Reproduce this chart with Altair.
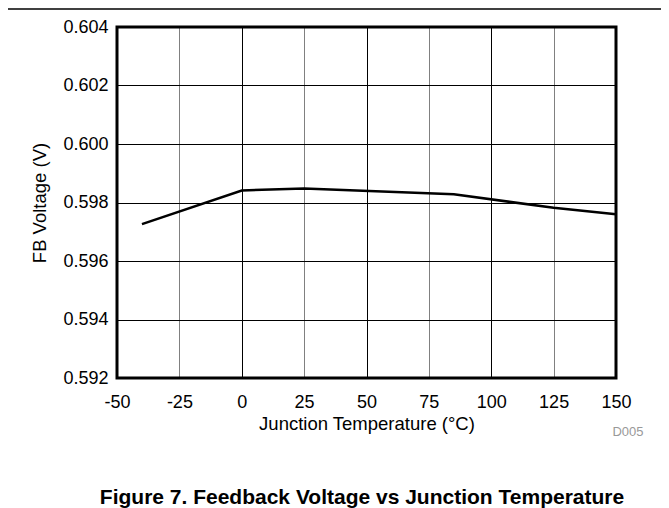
import altair as alt
import pandas as pd

temps = [-40, 0, 25, 85, 125, 150]
volts = [0.59726, 0.59841, 0.59848, 0.59828, 0.59782, 0.5976]

x_ticks = [-50, -25, 0, 25, 50, 75, 100, 125, 150]
y_ticks = [0.592, 0.594, 0.596, 0.598, 0.600, 0.602, 0.604]

df = pd.DataFrame({"temp": temps, "volt": volts})
FONT = "Liberation Sans"

W, H = 499, 351

line = alt.Chart(df).mark_line(color="black", strokeWidth=2.5).encode(
    x=alt.X("temp:Q",
            scale=alt.Scale(domain=[-50, 150], nice=False, zero=False),
            axis=alt.Axis(values=x_ticks, title="Junction Temperature (°C)",
                          labelExpr="'' + datum.value",
                          ticks=False, domain=False, labelPadding=15,
                          titlePadding=3, labelFontSize=18, titleFontSize=18.5,
                          titleFontWeight="normal", labelColor="black",
                          titleColor="black", labelFont=FONT, titleFont=FONT,
                          grid=True,
                          gridColor={"condition": {"test": "datum.value % 50 === 0", "value": "#000000"},
                                     "value": "#808080"},
                          gridWidth=1, gridOpacity=1, labelFlush=False)),
    y=alt.Y("volt:Q",
            scale=alt.Scale(domain=[0.592, 0.604], nice=False, zero=False),
            axis=alt.Axis(values=y_ticks, format=".3f", title="FB Voltage (V)",
                          ticks=False, domain=False, labelPadding=9,
                          titlePadding=13, labelFontSize=18, titleFontSize=18.5,
                          titleFontWeight="normal", labelColor="black",
                          titleColor="black", labelFont=FONT, titleFont=FONT,
                          grid=True, gridColor="#000000", gridWidth=1,
                          gridOpacity=1, labelFlush=False)),
)

one = alt.Data(values=[{"a": 1}])

frame = alt.Chart(one).mark_rect(fill=None, stroke="black", strokeWidth=3).encode(
    x=alt.value(0), x2=alt.value(W), y=alt.value(0), y2=alt.value(H)
)

top_rule = alt.Chart(one).mark_rule(color="black", strokeWidth=1.5).encode(
    x=alt.value(-109), x2=alt.value(544), y=alt.value(-18)
)

d005 = alt.Chart(one).mark_text(text="D005", font=FONT, fontSize=13,
                                color="#999999", align="center",
                                baseline="middle").encode(
    x=alt.value(511), y=alt.value(405)
)

caption = alt.Chart(one).mark_text(
    text="Figure 7. Feedback Voltage vs Junction Temperature", font=FONT,
    fontSize=21, fontWeight="bold", color="black", align="center",
    baseline="alphabetic").encode(x=alt.value(245), y=alt.value(477))

chart = alt.layer(line, frame, top_rule, d005, caption).properties(
    width=W, height=H,
    autosize=alt.AutoSizeParams(type="none"),
    padding={"left": 109, "top": 19, "right": 45, "bottom": 140},
).configure_view(stroke=None).configure(background="white")

chart.save("out.html", embed_options={"renderer": "svg", "actions": False})
